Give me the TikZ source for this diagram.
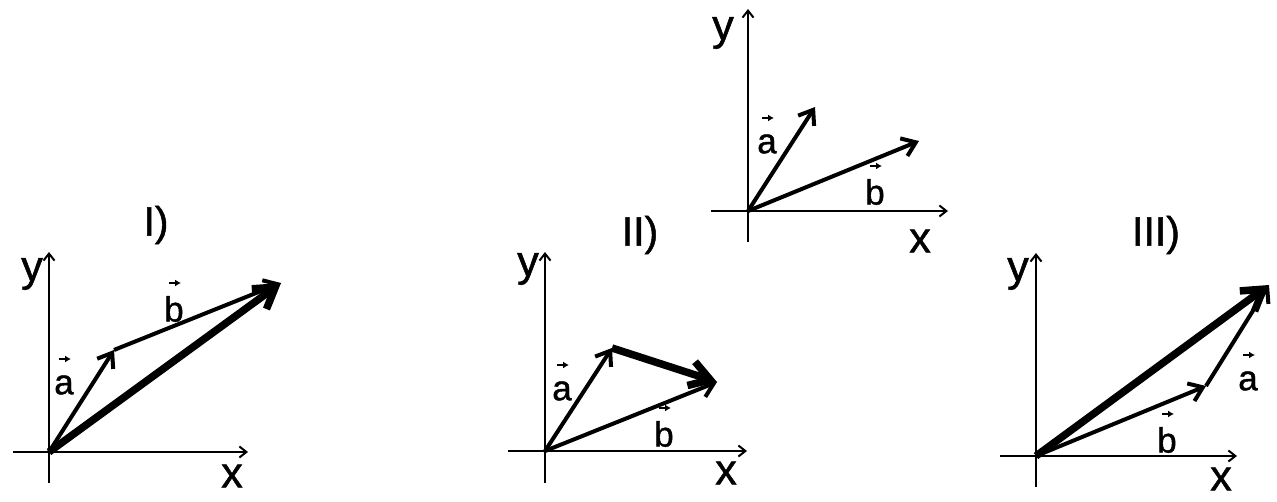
\documentclass[tikz,border=0pt]{standalone}
\usepackage{fontspec}
\setmainfont{Liberation Sans}[FakeBold=1.2]
\usetikzlibrary{arrows.meta}
\begin{document}
\begin{tikzpicture}[x=1pt,y=-1pt,
 axis/.style={line width=2pt,-{Straight Barb[length=7pt,width=11pt]}},
 vecarrow/.style={line width=4pt,-{Straight Barb[length=13pt,width=19pt]}},
 resarrow/.style={line width=7.5pt,-{Straight Barb[length=20pt,width=25pt]}},
 albl/.style={font=\fontsize{43}{43}\selectfont, inner sep=0pt},
 vlbl/.style={font=\fontsize{35}{35}\selectfont, inner sep=0pt},
 ttl/.style={font=\fontsize{41}{41}\selectfont, inner sep=0pt},
 tinyarrow/.style={line width=2pt,-{Latex[length=6pt,width=7pt]}}]
\useasboundingbox (0,0) rectangle (1277,502);

% ---------- top reference diagram ----------
\coordinate (O0) at (748,211);
\coordinate (Y0a) at (748,242); \coordinate (Y0b) at (748,9);
\coordinate (X0a) at (711,211); \coordinate (X0b) at (948,211);
\coordinate (A0) at (815,107);
\coordinate (B0) at (919,141);
\draw[axis] (Y0a) -- (Y0b);
\draw[axis] (X0a) -- (X0b);
\draw[vecarrow] (O0) -- (A0);
\draw[vecarrow] (O0) -- (B0);
\node[albl] (ly0) at (723,33) {y};
\node[albl] (lx0) at (920,241) {x};
\node[vlbl] (la0) at (767,144) {a};
\node[vlbl] (lb0) at (875,192) {b};

% ---------- I ----------
\coordinate (O1) at (49,452);
\coordinate (Y1a) at (49,483); \coordinate (Y1b) at (49,252);
\coordinate (X1a) at (13,452); \coordinate (X1b) at (248,452);
\coordinate (A1) at (114,350);
\coordinate (B1) at (281,283);
\draw[axis] (Y1a) -- (Y1b);
\draw[axis] (X1a) -- (X1b);
\draw[vecarrow] (O1) -- (A1);
\draw[vecarrow] (A1) -- (B1);
\draw[resarrow] (O1) -- (B1);
\node[ttl] (t1) at (156,225) {I)};
\node[albl] (ly1) at (32,274) {y};
\node[albl] (lx1) at (232,476) {x};
\node[vlbl] (la1) at (64,385) {a};
\node[vlbl] (lb1) at (174,309) {b};

% ---------- II ----------
\coordinate (O2) at (545,451);
\coordinate (Y2a) at (545,483); \coordinate (Y2b) at (545,252);
\coordinate (X2a) at (508,451); \coordinate (X2b) at (747,451);
\coordinate (A2) at (612,348);
\coordinate (B2) at (717,382);
\draw[axis] (Y2a) -- (Y2b);
\draw[axis] (X2a) -- (X2b);
\draw[vecarrow] (O2) -- (A2);
\draw[vecarrow] (O2) -- (B2);
\draw[resarrow] (A2) -- (B2);
\node[ttl] (t2) at (640,235) {II)};
\node[albl] (ly2) at (528,269) {y};
\node[albl] (lx2) at (726,473) {x};
\node[vlbl] (la2) at (562,391) {a};
\node[vlbl] (lb2) at (664,434) {b};

% ---------- III ----------
\coordinate (O3) at (1036,456);
\coordinate (Y3a) at (1036,487); \coordinate (Y3b) at (1036,253);
\coordinate (X3a) at (1000,456); \coordinate (X3b) at (1237,456);
\coordinate (B3) at (1206,386);
\coordinate (C3) at (1269,285);
\draw[axis] (Y3a) -- (Y3b);
\draw[axis] (X3a) -- (X3b);
\draw[vecarrow] (O3) -- (B3);
\draw[vecarrow] (B3) -- (C3);
\draw[resarrow] (O3) -- (C3);
\node[ttl] (t3) at (1156,235) {III)};
\node[albl] (ly3) at (1018,274) {y};
\node[albl] (lx3) at (1221,479) {x};
\node[vlbl] (la3) at (1248,381) {a};
\node[vlbl] (lb3) at (1167,440) {b};

% small vector arrows above the letters
\foreach \n in {la0,lb0,la1,lb1,la2,lb2,la3,lb3}{
  \draw[tinyarrow] (\n.center) ++(-5,-26) -- ++(12,0);
}
\end{tikzpicture}
\end{document}
